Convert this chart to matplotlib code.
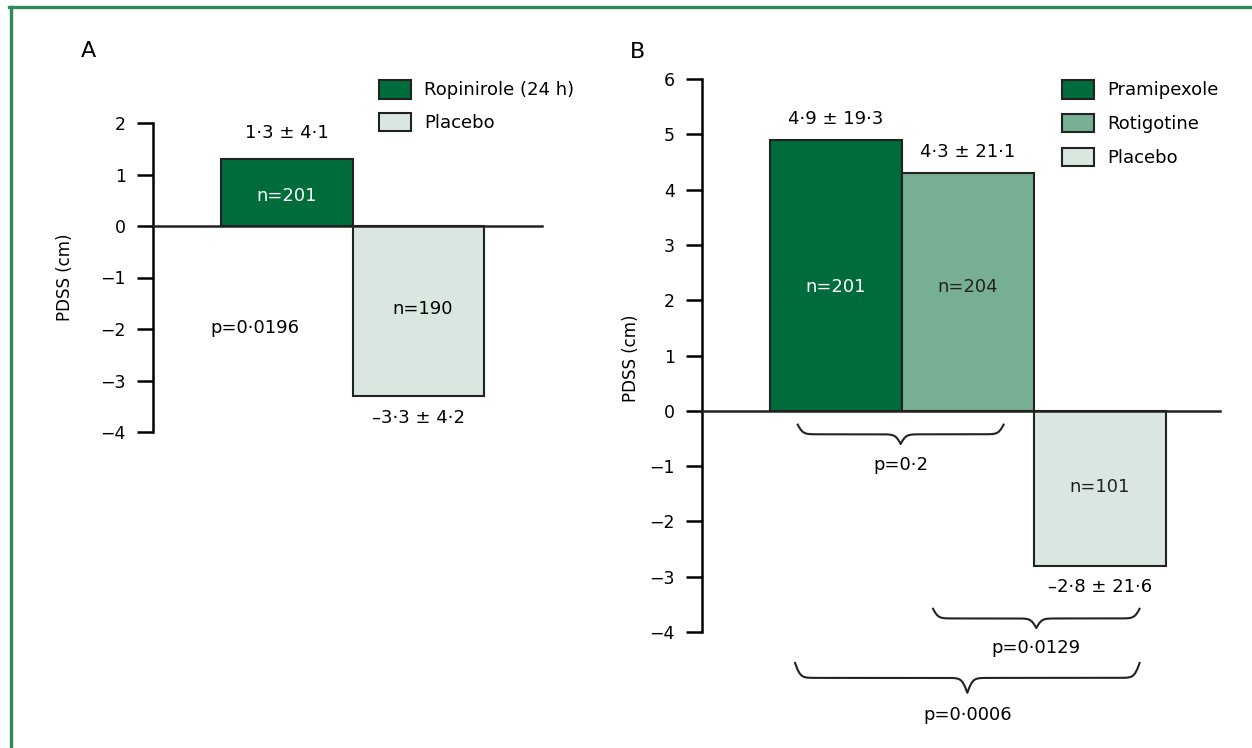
import numpy as np
import matplotlib
matplotlib.use("Agg")
import matplotlib.pyplot as plt
from matplotlib.patches import Patch
from matplotlib.lines import Line2D

plt.rcParams['font.family'] = ['DejaVu Sans']
plt.rcParams['font.size'] = 13

# panel A data
a_groups = ["Ropinirole (24 h)", "Placebo"]
a_values = [1.3, -3.3]
a_sd = [4.1, 4.2]
a_n = [201, 190]
a_p = "p=0·0196"

# panel B data
b_groups = ["Pramipexole", "Rotigotine", "Placebo"]
b_values = [4.9, 4.3, -2.8]
b_sd = [19.3, 21.1, 21.6]
b_n = [201, 204, 101]
# (left bar, right bar, label)
b_pvals = [(0, 1, "p=0·2"), (1, 2, "p=0·0129"), (0, 2, "p=0·0006")]

dark = "#006c3b"
mid = "#77af93"
light = "#d9e7e0"
frame_green = "#2e8b5a"
FS = 13


def fmt(v):
    s = "%.1f" % abs(v)
    s = s.replace(".", "·")
    return ("–" + s) if v < 0 else s


def brace(ax, x0, x1, ytop, ytip):
    xc = (x0 + x1) / 2
    b = 50.0
    x = np.linspace(x0, xc, 80)
    f = 1 / (1 + np.exp(-b * (x - x0))) + 1 / (1 + np.exp(-b * (x - xc)))
    g = (f - 0.5) / 1.0
    y = ytop + g * (ytip - ytop)
    xs = np.concatenate([x, 2 * xc - x[::-1]])
    ys = np.concatenate([y, y[::-1]])
    ax.plot(xs, ys, color="#222222", lw=1.5, clip_on=False)


def style_axis(ax, ylo, yhi):
    for s in ["top", "right", "bottom"]:
        ax.spines[s].set_visible(False)
    ax.spines["left"].set_bounds(ylo, yhi)
    ax.spines["left"].set_linewidth(1.8)
    ax.set_xticks([])
    ax.set_yticks(range(ylo, yhi + 1))
    ax.tick_params(axis="y", length=11.5, width=1.8, pad=8, labelsize=12.5)
    ax.patch.set_alpha(0)


fig = plt.figure(figsize=(12.52, 7.48), dpi=100)

# ---- panel A
axA = fig.add_axes([153 / 1252, 1 - 432 / 748, 397 / 1252, 309 / 748])
xa = np.arange(len(a_values))
barsA = axA.bar(xa, a_values, width=1.0, color=[dark, light],
                edgecolor="#222222", linewidth=1.5, zorder=3)
axA.set_xlim(-1.017, 2.0)
axA.set_ylim(-4, 2)
style_axis(axA, -4, 2)
axA.plot([-1.017, 1.94], [0, 0], color="#222222", lw=1.8, clip_on=False, zorder=4)
for i, (v, sd, n) in enumerate(zip(a_values, a_sd, a_n)):
    off = 0.5 if v > 0 else -0.43
    axA.text(xa[i], v + off, "%s ± %s" % (fmt(v), fmt(sd)),
             ha="center", va="center", fontsize=FS)
axA.text(xa[0], a_values[0] * 0.45, "n=%d" % a_n[0], color="white",
         ha="center", va="center", fontsize=FS, zorder=5)
axA.text(xa[1] + 0.03, -1.61, "n=%d" % a_n[1], ha="center", va="center",
         fontsize=FS, zorder=5)
axA.text(-0.24, -1.98, a_p, ha="center", va="center", fontsize=FS)

fig.legend(handles=[Patch(facecolor=dark, edgecolor="#222222", lw=1.5),
                    Patch(facecolor=light, edgecolor="#222222", lw=1.5)],
           labels=a_groups, loc="upper left",
           bbox_to_anchor=(379 / 1252, 1 - 80 / 748), frameon=False,
           borderpad=0, borderaxespad=0, handlelength=1.75, handleheight=1.2,
           handletextpad=0.75, labelspacing=0.75, fontsize=FS)

# ---- panel B
axB = fig.add_axes([702 / 1252, 1 - 632 / 748, 530 / 1252, 553 / 748])
xb = np.arange(len(b_values))
barsB = axB.bar(xb, b_values, width=1.0, color=[dark, mid, light],
                edgecolor="#222222", linewidth=1.5, zorder=3)
axB.set_xlim(-1.015, 3.0)
axB.set_ylim(-4, 6)
style_axis(axB, -4, 6)
axB.plot([-1.015, 2.91], [0, 0], color="#222222", lw=1.8, clip_on=False, zorder=4)
for i, (v, sd) in enumerate(zip(b_values, b_sd)):
    off = 0.38 if v > 0 else -0.38
    axB.text(xb[i], v + off, "%s ± %s" % (fmt(v), fmt(sd)),
             ha="center", va="center", fontsize=FS)
ncols = ["white", "#222222", "#222222"]
ny = [2.24, 2.24, -1.37]
for i, n in enumerate(b_n):
    axB.text(xb[i], ny[i], "n=%d" % n, color=ncols[i], ha="center",
             va="center", fontsize=FS, zorder=5)

# braces: (x0, x1, ytop, ytip, label y)
brace_geo = [(-0.29, 1.27, -0.25, -0.60, -0.98),
             (0.735, 2.30, -3.58, -3.93, -4.29),
             (-0.31, 2.30, -4.56, -5.10, -5.50)]
for (l, r, lab), (x0, x1, yt, yp, yl) in zip(b_pvals, brace_geo):
    brace(axB, x0, x1, yt, yp)
    axB.text((x0 + x1) / 2, yl, lab, ha="center", va="center", fontsize=FS)

fig.legend(handles=[Patch(facecolor=c, edgecolor="#222222", lw=1.5)
                    for c in [dark, mid, light]],
           labels=b_groups, loc="upper left",
           bbox_to_anchor=(1062 / 1252, 1 - 80 / 748), frameon=False,
           borderpad=0, borderaxespad=0, handlelength=1.75, handleheight=1.2,
           handletextpad=0.75, labelspacing=0.8, fontsize=FS)

# labels and panel letters
fig.text(65 / 1252, 1 - 277 / 748, "PDSS (cm)", rotation=90, ha="center",
         va="center", fontsize=12)
fig.text(631 / 1252, 1 - 358 / 748, "PDSS (cm)", rotation=90, ha="center",
         va="center", fontsize=12)
fig.text(88 / 1252, 1 - 51 / 748, "A", ha="center", va="center", fontsize=16)
fig.text(638 / 1252, 1 - 52 / 748, "B", ha="center", va="center", fontsize=16)

# green frame (top and left edges only)
fig.add_artist(Line2D([9 / 1252, 1], [1 - 7 / 748, 1 - 7 / 748],
                      transform=fig.transFigure, color=frame_green, lw=2.4))
fig.add_artist(Line2D([11 / 1252, 11 / 1252], [0, 1 - 7 / 748],
                      transform=fig.transFigure, color=frame_green, lw=2.4))

fig.savefig("out.png", dpi=100)
